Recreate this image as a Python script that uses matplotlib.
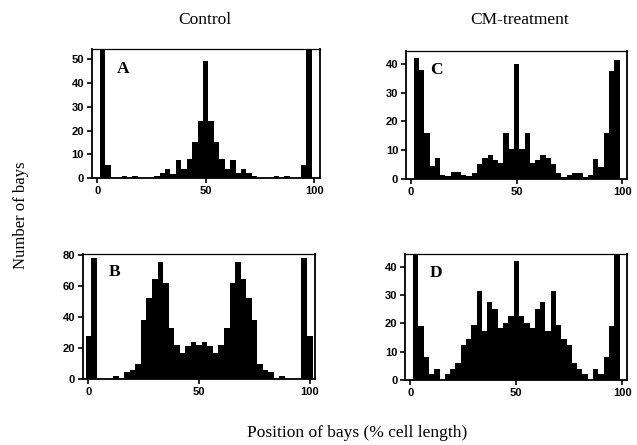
import matplotlib
matplotlib.use("Agg")
import matplotlib.pyplot as plt
import numpy as np

# bin centres, % of cell length (bins 2.5 wide)
positions = np.arange(0, 100.1, 2.5)

# A: control, narrow cells
counts_a = [0, 65, 5.5, 0, 0, 1, 0, 1, 0, 0, 0, 1, 2, 4, 1.5, 7.5, 4, 8, 15, 24,
            49.5, 24, 15, 8, 4, 7.5, 2, 4, 2, 1, 0, 0, 0, 1, 0, 1, 0, 0, 5.5, 65, 0]
# B: control, wide cells
counts_b = [28, 78, 0, 0, 0, 2, 1, 4.5, 6, 9.5, 38, 52, 64, 75.5, 62, 33, 22, 17, 21, 24,
            22, 24, 21, 17, 22, 33, 62, 75.5, 64, 52, 38, 9.5, 6, 4.5, 1, 2, 0, 0, 0, 78, 28]
# C: CM-treatment, narrow cells
counts_c = [0, 42, 38, 16, 4.5, 7.2, 1.5, 1, 2.5, 2.5, 1.5, 1, 2, 5.3, 7.2, 8.2, 6.5, 5.5, 16, 10.5,
            40, 10.5, 16, 5.5, 6.5, 8.2, 7.2, 5.3, 2, 0.5, 1.5, 2.2, 2.2, 0.5, 1.2, 7, 4.2, 16, 37.5, 41.5, 0]
# D: CM-treatment, wide cells
counts_d = [0, 55, 19, 8, 2, 4, 0, 2, 4, 6, 12.5, 14.5, 19.5, 31.5, 17.5, 27.5, 25, 18.5, 20, 22.5,
            42, 22.5, 20, 18.5, 25, 27.5, 17.5, 31.5, 19.5, 14.5, 12.5, 6, 4, 2, 0, 4, 2, 8, 19, 55, 0]

panels = [
    ("A", counts_a, [0.144, 0.600, 0.358, 0.289], 54.2, [0, 10, 20, 30, 40, 50]),
    ("C", counts_c, [0.637, 0.598, 0.348, 0.288], 44.6, [0, 10, 20, 30, 40]),
    ("B", counts_b, [0.130, 0.148, 0.365, 0.282], 80.6, [0, 20, 40, 60, 80]),
    ("D", counts_d, [0.636, 0.146, 0.349, 0.283], 44.5, [0, 10, 20, 30, 40]),
]

serif = "Liberation Serif"
tickfont = "Liberation Sans"

fig = plt.figure(figsize=(6.37, 4.45), dpi=100)

for letter, counts, rect, ytop, yticks in panels:
    ax = fig.add_axes(rect)
    ax.bar(positions, counts, width=2.5, color="black", edgecolor="none")
    ax.set_xlim(-2.5, 102.5)
    ax.set_ylim(0, ytop)
    ax.set_xticks([0, 50, 100])
    ax.set_yticks(yticks)
    ax.tick_params(direction="out", length=3.5, width=1.2, labelsize=8, pad=2)
    for lab in ax.get_xticklabels() + ax.get_yticklabels():
        lab.set_family(tickfont)
        lab.set_fontweight("bold")
    for name, sp in ax.spines.items():
        sp.set_linewidth(0.9 if name == "top" else 1.3)
    ax.text(0.11, 0.85, letter, transform=ax.transAxes, ha="left", va="center",
            fontsize=12.5, fontweight="bold", family=serif)

fig.text(205 / 637, 1 - 20 / 445, "Control", ha="center", va="center", fontsize=12.5, family=serif)
fig.text(520 / 637, 1 - 20 / 445, "CM-treatment", ha="center", va="center", fontsize=12.5, family=serif)
fig.text(21 / 637, 1 - 215 / 445, "Number of bays", ha="center", va="center", rotation=90,
         fontsize=12, family=serif)
fig.text(357 / 637, 1 - 433 / 445, "Position of bays (% cell length)", ha="center", va="center",
         fontsize=12.5, family=serif)

fig.savefig("out.png", dpi=100)
plt.close()
